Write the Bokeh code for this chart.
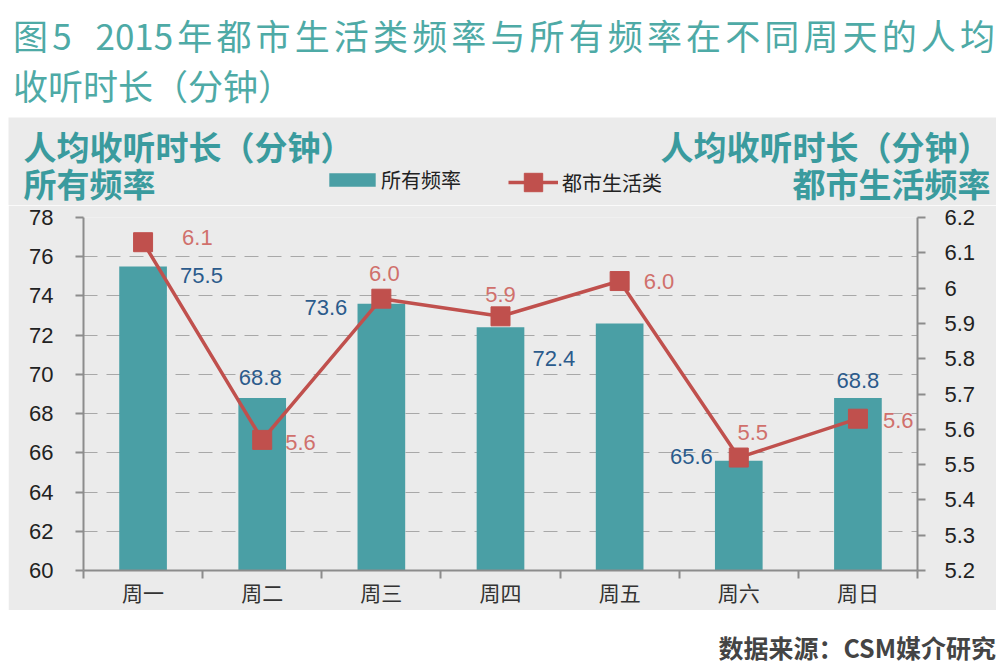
from bokeh.plotting import figure
from bokeh.models import (Range1d, LinearAxis, FixedTicker, CustomJSTickFormatter,
                          ColumnDataSource, Legend, LegendItem, Label, Div)
from bokeh.layouts import column
from bokeh.core.properties import value
from bokeh.embed import file_html
from bokeh.resources import INLINE

# ---------------- data ----------------
days = ["周一", "周二", "周三", "周四", "周五", "周六", "周日"]
all_freq = [75.5, 68.8, 73.6, 72.4, 72.6, 65.6, 68.8]          # 所有频率 (left axis)
urban_life = [6.13, 5.57, 5.97, 5.92, 6.02, 5.52, 5.63]        # 都市生活类 (right axis)
left_ticks = [60, 62, 64, 66, 68, 70, 72, 74, 76, 78]
right_ticks = [5.2, 5.3, 5.4, 5.5, 5.6, 5.7, 5.8, 5.9, 6.0, 6.1, 6.2]
bar_label_shown = [True, True, True, True, False, True, True]

title_line1 = "图5  2015年都市生活类频率与所有频率在不同周天的人均"
title_line2 = "收听时长（分钟）"
left_axis_title = ["人均收听时长（分钟）", "所有频率"]
right_axis_title = ["人均收听时长（分钟）", "都市生活频率"]
legend_labels = ["所有频率", "都市生活类"]
source_note = "数据来源：CSM媒介研究"

# ---------------- styles ----------------
TEAL_BAR = "#4a9fa5"
TEAL_TITLE = "#4eaaa6"
TEAL_AXIS_TITLE = "#3a9b9e"
RED = "#c0504d"
RED_LABEL = "#d0706c"
BLUE_LABEL = "#2b5b8c"
PANEL = "#ebebeb"
AXIS = "#8c8c8c"
CJK = "Noto Sans CJK SC"
NUM = "Liberation Sans"

# label placement (screen px offsets / alignment)
bar_lab_dx = [37, -2, -34, 32, 0, -26, 0]
bar_lab_dy = [9, -20, 4, 31, 0, -4, -17]
bar_lab_align = ["left", "center", "right", "left", "center", "right", "center"]
line_lab_dx = [39, 23, 3, 0, 24, 14, 25]
line_lab_dy = [-5, 3, -25, -22, 0, -25, 2]
line_lab_align = ["left", "left", "center", "center", "left", "center", "left"]

xs = [i + 0.5 for i in range(len(days))]

PANEL_W = 988
HEAD_H = 88
FW, FH = 834, 353

bar_src = ColumnDataSource(dict(
    x=xs, y=all_freq,
    t=[f"{v:.1f}" if s else "" for v, s in zip(all_freq, bar_label_shown)],
    dx=bar_lab_dx, dy=bar_lab_dy, al=bar_lab_align))
line_src = ColumnDataSource(dict(
    x=xs, y=urban_life, t=[f"{v:.1f}" for v in urban_life],
    dx=line_lab_dx, dy=line_lab_dy, al=line_lab_align))

# ---------------- header band of the grey panel (axis titles + legend) ----------------
head = figure(width=PANEL_W, height=HEAD_H, x_range=Range1d(0, PANEL_W),
              y_range=Range1d(0, HEAD_H), output_backend="svg", toolbar_location=None,
              x_axis_location=None, y_axis_location=None,
              min_border=0, margin=(0, 0, 0, 0))
head.grid.visible = False
head.background_fill_color = PANEL
head.border_fill_color = PANEL
head.outline_line_color = None

# hidden proxies of the series (same data) that only feed the legend glyphs
lg_bar = head.vbar(x="x", top="y", width=0.4, source=bar_src,
                   fill_color=TEAL_BAR, line_color=None, visible=False)
lg_line = head.line(x="x", y="y", source=line_src, line_color=RED, line_width=3.5, visible=False)
lg_mark = head.scatter(x="x", y="y", source=line_src, marker="square", size=19,
                       fill_color=RED, line_color=RED, visible=False)

title_rows = [60, 23]
for txt, yy in zip(left_axis_title, title_rows):
    head.add_layout(Label(x=15, y=yy, x_units="screen", y_units="screen", text=txt,
                          text_font=CJK, text_font_style="bold", text_font_size="33px",
                          text_color=TEAL_AXIS_TITLE, text_baseline="middle", text_align="left"))
for txt, yy in zip(right_axis_title, title_rows):
    head.add_layout(Label(x=982, y=yy, x_units="screen", y_units="screen", text=txt,
                          text_font=CJK, text_font_style="bold", text_font_size="33px",
                          text_color=TEAL_AXIS_TITLE, text_baseline="middle", text_align="right"))

leg_common = dict(orientation="horizontal", padding=0, margin=0, border_line_color=None,
                  background_fill_alpha=0, inactive_fill_alpha=0,
                  label_text_line_height=0.85, label_text_font=CJK,
                  label_text_font_size="20px", label_text_color="#222222")
leg1 = Legend(items=[LegendItem(label=legend_labels[0], renderers=[lg_bar])],
              location=(315, 11), glyph_width=58, glyph_height=17, label_height=17,
              label_standoff=0, **leg_common)
leg2 = Legend(items=[LegendItem(label=legend_labels[1], renderers=[lg_line, lg_mark])],
              location=(500, 0), glyph_width=50, glyph_height=46, label_height=46,
              label_standoff=4, **leg_common)
head.add_layout(leg1)
head.add_layout(leg2)

# ---------------- main plot ----------------
l0, l1 = left_ticks[0], left_ticks[-1]
r0, r1 = right_ticks[0], right_ticks[-1]
p = figure(frame_width=FW, frame_height=FH, x_range=Range1d(0, len(days)),
           y_range=Range1d(l0, l1), output_backend="svg", toolbar_location=None,
           min_border_left=75, min_border_right=79, min_border_top=12, min_border_bottom=40,
           margin=(0, 0, 0, 0))
p.extra_y_ranges = {"y2": Range1d(r0, r1)}
p.background_fill_color = PANEL
p.border_fill_color = PANEL
p.outline_line_color = None

p.vbar(x="x", top="y", bottom=l0, width=0.4, source=bar_src,
       fill_color=TEAL_BAR, line_color=None)
p.line(x="x", y="y", source=line_src, y_range_name="y2", line_color=RED, line_width=3.5)
p.scatter(x="x", y="y", source=line_src, y_range_name="y2", marker="square", size=19,
          fill_color=RED, line_color=RED)

p.text(x="x", y="y", text="t", x_offset="dx", y_offset="dy", text_align="al",
       text_baseline="middle", text_font=value(NUM), text_font_size="22px",
       text_color=BLUE_LABEL, source=bar_src)
p.text(x="x", y="y", text="t", x_offset="dx", y_offset="dy", text_align="al",
       text_baseline="middle", text_font=value(NUM), text_font_size="22px",
       text_color=RED_LABEL, source=line_src, y_range_name="y2")

# grid
yt = FixedTicker(ticks=left_ticks)
p.xgrid.visible = False
p.ygrid.ticker = yt
p.ygrid.grid_line_color = "#a8a8a8"
p.ygrid.grid_line_dash = "14 9"
p.ygrid.grid_line_width = 1

# bottom axis
xa = p.xaxis[0]
xa.ticker = FixedTicker(ticks=xs, minor_ticks=list(range(len(days) + 1)))
xa.major_label_overrides = {x: d for x, d in zip(xs, days)}
xa.major_tick_out = 0
xa.major_tick_in = 0
xa.minor_tick_out = 8
xa.minor_tick_in = 0
xa.minor_tick_line_color = AXIS
xa.minor_tick_line_width = 2
xa.axis_line_color = AXIS
xa.axis_line_width = 2
xa.major_label_standoff = -2
xa.major_label_text_font = CJK
xa.major_label_text_font_size = "21px"
xa.major_label_text_color = "#333333"

# left axis
ya = p.yaxis[0]
ya.ticker = yt
ya.major_tick_out = 8
ya.major_tick_in = 0
ya.minor_tick_line_color = None
ya.major_tick_line_color = AXIS
ya.major_tick_line_width = 2
ya.axis_line_color = AXIS
ya.axis_line_width = 2
ya.major_label_standoff = 22
ya.major_label_text_font = NUM
ya.major_label_text_font_size = "22px"
ya.major_label_text_color = "#222222"

# right axis
ya2 = LinearAxis(y_range_name="y2", ticker=FixedTicker(ticks=right_ticks),
                 formatter=CustomJSTickFormatter(code="return (Math.round(tick*10)/10).toString()"))
ya2.major_tick_out = 8
ya2.major_tick_in = 0
ya2.minor_tick_line_color = None
ya2.major_tick_line_color = AXIS
ya2.major_tick_line_width = 2
ya2.axis_line_color = AXIS
ya2.axis_line_width = 2
ya2.major_label_standoff = 19
ya2.major_label_text_font = NUM
ya2.major_label_text_font_size = "22px"
ya2.major_label_text_color = "#222222"
p.add_layout(ya2, "right")

# ---------------- page texts ----------------
title_div = Div(
    text=(f'<div style="margin-left:5px;width:982px;text-align:justify;text-align-last:justify;'
          f'white-space:pre-wrap;">{title_line1}</div>'
          f'<div style="margin-left:5px;">{title_line2}</div>'),
    width=PANEL_W, height=109, margin=(0, 0, 0, 0),
    styles={"font-family": CJK, "font-size": "35px", "line-height": "50px",
            "color": TEAL_TITLE, "padding-top": "2px", "box-sizing": "border-box"})

source_div = Div(
    text=f'<div style="text-align:right;width:{PANEL_W}px;">{source_note}</div>',
    width=PANEL_W, height=54, margin=(0, 0, 0, 0),
    styles={"font-family": CJK, "font-size": "25px", "font-weight": "bold", "line-height": "30px",
            "color": "#444444", "padding-top": "22px", "box-sizing": "border-box"})

layout = column(title_div,
                column(head, margin=(0, 0, 0, 0)),
                column(p, margin=(0, 0, 0, 0)),
                source_div, spacing=0, margin=(8, 8, 0, 8))

open("out.html", "w").write(file_html(layout, INLINE))
